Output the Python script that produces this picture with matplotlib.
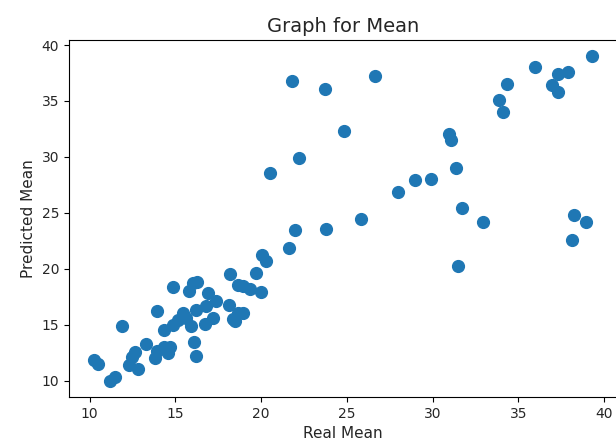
import matplotlib
matplotlib.use("Agg")
import matplotlib.pyplot as plt

real_mean = [10.25, 10.5, 11.2, 11.5, 11.9, 12.3, 12.5, 12.65, 12.85, 13.3,
             13.8, 13.95, 13.9, 14.35, 14.55, 14.7, 14.35, 14.85, 14.85, 15.15,
             15.45, 15.6, 15.9, 15.8, 16.05, 16.25, 16.1, 16.2, 16.2, 16.7,
             16.8, 16.9, 17.2, 17.35, 18.1, 18.2, 18.35, 18.5, 18.65, 18.95,
             18.65, 18.95, 19.35, 19.7, 20.0, 20.05, 20.3, 20.5, 21.6, 21.8,
             22.0, 22.2, 23.7, 23.8, 24.85, 25.8, 26.65, 28.0, 28.95, 29.9,
             30.95, 31.05, 31.35, 31.5, 31.7, 32.95, 33.9, 34.1, 34.35, 35.95,
             36.95, 37.3, 37.3, 37.9, 38.15, 38.25, 38.95, 39.3]
pred_mean = [11.85, 11.5, 10.0, 10.3, 14.85, 11.4, 12.1, 12.55, 11.05, 13.25,
             12.05, 12.65, 16.2, 13.05, 12.5, 13.0, 14.55, 15.0, 18.35, 15.4,
             16.1, 15.6, 14.85, 18.05, 18.7, 18.8, 13.5, 12.25, 16.35, 15.05,
             16.7, 17.8, 15.65, 17.1, 16.8, 19.55, 15.5, 15.3, 16.05, 16.1,
             18.55, 18.45, 18.2, 19.65, 17.9, 21.2, 20.7, 28.6, 21.9, 36.8,
             23.5, 29.9, 36.05, 23.6, 32.3, 24.5, 37.25, 26.85, 27.9, 28.05,
             32.05, 31.5, 29.05, 20.25, 25.4, 24.2, 35.05, 34.05, 36.55, 38.0,
             36.4, 35.8, 37.4, 37.55, 22.6, 24.8, 24.2, 39.0]

fig = plt.figure(figsize=(6.16, 4.48), dpi=100)
ax = fig.add_axes([69 / 616, 51 / 448, 548 / 616, 357 / 448])
ax.scatter(real_mean, pred_mean, s=72, color="#1f77b4")
ax.set_title("Graph for Mean", fontsize=14, color="#262626")
ax.set_xlabel("Real Mean", fontsize=11, color="#262626")
ax.set_ylabel("Predicted Mean", fontsize=11, color="#262626")
ax.tick_params(labelsize=10, labelcolor="#262626")

fig.savefig("out.png", dpi=100)
